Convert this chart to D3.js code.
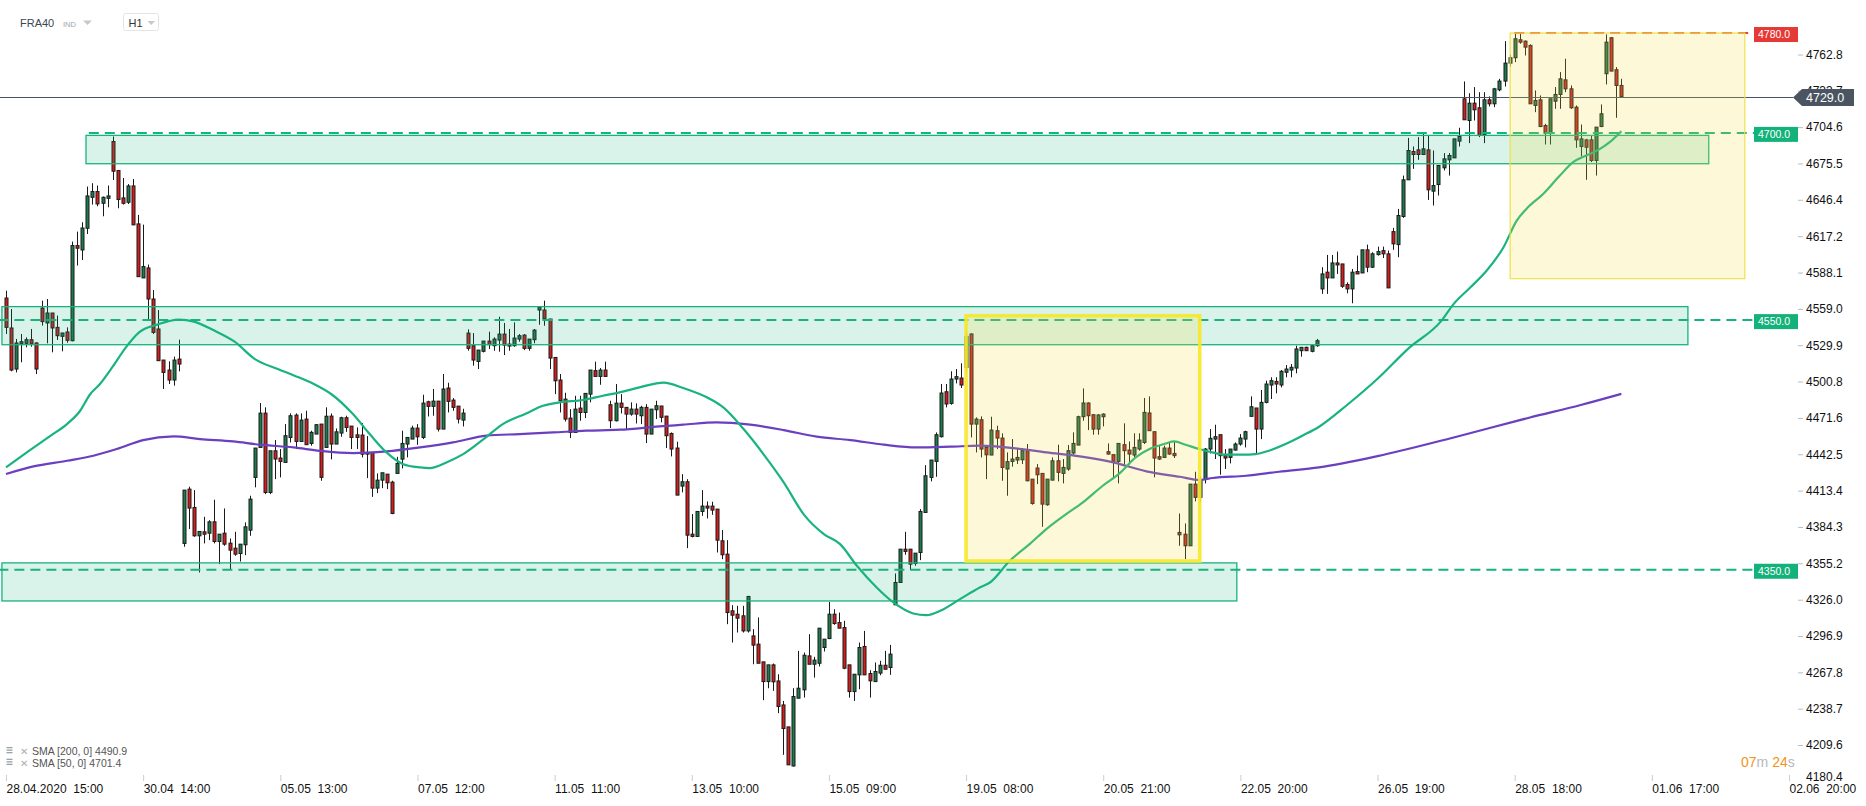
<!DOCTYPE html>
<html><head><meta charset="utf-8">
<script src="https://cdn.jsdelivr.net/npm/d3@7"></script>
<style>
body{margin:0;background:#fff;}
svg{display:block;font-family:"Liberation Sans",Arial,sans-serif;}
text{white-space:pre;}
</style>
</head><body>
<svg id="c" width="1866" height="806"></svg>
<script>
// ---------- DATA ----------
const instrument = "FRA40", instrumentType = "IND", timeframe = "H1";
// hourly candles [open, high, low, close], index 0 = 28.04.2020 15:00
const candles = [
[4567.7,4573.6,4538.9,4544.2],[4543.7,4558.9,4509.0,4510.0],[4510.8,4534.9,4508.1,4531.7],[4530.9,4538.9,4516.2,4532.7],[4531.4,4536.2,4528.2,4534.3],[4534.3,4542.9,4528.7,4530.9],[4531.7,4532.2,4506.8,4510.8],
[4559.7,4565.6,4545.6,4548.8],[4547.7,4566.9,4531.4,4555.7],[4555.7,4555.7,4524.2,4543.7],[4544.2,4553.6,4534.1,4537.5],[4537.0,4539.7,4525.0,4539.7],[4540.5,4544.2,4531.9,4533.8],[4533.5,4612.9,4533.0,4609.7],[4609.7,4620.9,4593.7,4607.6],[4606.2,4628.4,4598.2,4623.8],[4623.6,4657.0,4619.0,4649.5],[4648.4,4659.7,4642.6,4653.0],[4653.0,4657.8,4641.2,4643.1],[4643.6,4649.0,4633.2,4648.4],[4647.6,4657.8,4640.4,4649.5],
[4693.1,4697.1,4662.3,4669.3],[4669.8,4669.8,4639.6,4646.6],[4647.9,4663.9,4642.6,4643.6],[4644.4,4659.0,4643.0,4657.5],[4657.5,4663.1,4626.3,4626.3],[4627.1,4634.3,4584.8,4584.8],[4583.8,4626.5,4583.8,4592.9],[4591.8,4594.5,4550.4,4566.9],[4566.9,4574.1,4538.9,4540.2],[4542.9,4558.1,4517.5,4517.5],[4518.0,4518.0,4494.8,4508.1],[4510.0,4517.0,4498.8,4502.0],[4502.0,4520.7,4497.5,4518.0],[4518.8,4534.3,4508.9,4514.8],
[4371.1,4413.8,4368.4,4413.8],[4414.6,4416.5,4382.6,4399.4],[4399.9,4413.8,4376.4,4377.2],[4377.2,4380.7,4347.8,4380.7],[4380.4,4392.4,4371.1,4378.5],[4379.3,4389.7,4373.7,4388.4],[4388.4,4406.1,4371.1,4372.6],[4372.6,4378.5,4354.5,4378.5],[4379.3,4399.1,4369.2,4370.5],[4371.3,4375.1,4350.5,4365.7],[4367.3,4380.4,4361.2,4362.5],[4363.0,4370.5,4356.6,4370.5],[4370.0,4387.9,4361.7,4384.4],[4381.7,4409.3,4377.2,4406.6],
[4424.0,4447.5,4416.0,4447.5],[4448.0,4483.6,4448.0,4475.5],[4475.5,4480.1,4410.6,4411.9],[4411.9,4445.3,4410.6,4445.3],[4445.3,4453.9,4422.6,4438.7],[4439.5,4446.7,4424.0,4436.8],[4436.0,4466.7,4436.0,4457.4],[4456.0,4475.3,4452.0,4473.4],[4473.9,4475.3,4446.7,4452.8],[4452.8,4475.3,4452.8,4469.9],[4470.7,4477.4,4450.2,4450.2],[4451.2,4461.4,4449.4,4460.1],[4458.7,4466.7,4458.7,4466.2],[4466.7,4466.7,4421.3,4424.0],
[4448.0,4480.1,4448.0,4473.0],[4473.1,4475.2,4438.4,4450.7],[4450.7,4463.2,4450.7,4460.5],[4459.5,4472.6,4456.5,4471.8],[4471.8,4473.4,4460.5,4464.0],[4465.1,4465.1,4446.7,4456.0],[4458.1,4464.0,4446.7,4456.0],[4457.9,4467.5,4440.0,4442.6],[4444.0,4457.1,4423.4,4442.6],[4444.0,4444.0,4408.4,4415.4],[4415.4,4427.2,4411.4,4421.8],[4421.8,4427.7,4415.4,4427.7],[4426.6,4426.6,4414.6,4419.7],[4420.2,4421.3,4394.5,4395.1],
[4427.2,4440.5,4427.2,4435.2],[4438.6,4461.4,4431.2,4451.2],[4450.7,4456.0,4440.0,4456.0],[4454.7,4465.4,4454.7,4463.5],[4463.5,4466.7,4450.1,4456.5],[4456.0,4490.2,4454.7,4483.5],[4484.6,4485.4,4472.8,4480.9],[4480.9,4494.8,4473.4,4485.1],[4485.1,4485.1,4460.8,4462.7],[4462.7,4506.8,4462.7,4494.8],[4495.6,4499.8,4476.0,4484.9],[4485.9,4487.5,4477.4,4480.1],[4481.1,4481.1,4467.2,4470.7],[4469.9,4479.0,4464.8,4475.5],
[4539.6,4542.6,4525.5,4527.4],[4529.5,4539.6,4513.5,4518.0],[4516.9,4526.0,4510.8,4526.0],[4525.0,4533.2,4524.1,4533.2],[4533.2,4540.7,4526.8,4530.3],[4529.5,4536.2,4525.5,4534.8],[4534.0,4552.7,4524.7,4538.8],[4538.8,4547.7,4522.0,4530.0],[4530.8,4542.9,4525.5,4529.2],[4529.5,4548.2,4528.7,4535.6],[4534.8,4538.8,4532.7,4537.5],[4538.0,4538.8,4526.0,4527.4],[4527.4,4534.8,4525.5,4534.8],[4534.3,4542.9,4531.4,4542.0],
[4558.1,4560.2,4546.3,4560.2],[4558.1,4565.6,4545.5,4550.9],[4550.9,4550.9,4510.8,4519.6],[4520.1,4520.1,4490.7,4501.4],[4502.0,4506.8,4476.0,4485.4],[4486.7,4491.8,4468.8,4470.7],[4471.5,4478.7,4455.5,4460.0],[4460.0,4489.4,4460.0,4478.7],[4479.5,4489.4,4469.4,4476.0],[4476.0,4491.3,4471.5,4491.3],[4490.7,4510.0,4484.1,4510.0],[4509.5,4516.7,4504.9,4504.9],[4504.9,4511.6,4498.2,4510.0],[4510.0,4516.7,4504.9,4504.9],
[4482.2,4485.4,4463.5,4469.4],[4469.4,4498.8,4468.8,4483.5],[4483.5,4490.7,4475.2,4480.1],[4480.1,4480.1,4462.7,4474.7],[4474.7,4484.1,4473.4,4478.7],[4478.7,4483.3,4467.2,4474.7],[4473.4,4481.4,4466.7,4480.1],[4480.1,4482.7,4451.5,4458.7],[4458.7,4478.7,4458.7,4478.7],[4478.2,4485.4,4470.7,4481.4],[4481.2,4481.2,4468.1,4472.1],[4473.1,4473.1,4447.5,4457.4],[4459.2,4460.0,4440.8,4446.7],[4447.5,4452.6,4409.8,4409.8],
[4417.0,4426.6,4412.0,4420.5],[4420.5,4422.6,4367.3,4377.7],[4378.5,4394.6,4375.9,4376.7],[4376.7,4396.7,4376.7,4396.7],[4396.7,4413.8,4393.2,4401.0],[4401.0,4404.7,4391.1,4399.4],[4401.0,4404.5,4394.0,4397.8],[4398.6,4398.6,4363.8,4373.7],[4373.2,4381.8,4358.5,4362.0],[4362.5,4373.7,4306.4,4315.7],[4317.1,4321.6,4291.7,4313.6],[4314.4,4321.1,4299.7,4311.2],[4313.1,4321.1,4299.7,4301.0],[4301.0,4329.1,4299.7,4328.6],
[4297.0,4302.4,4274.3,4289.6],[4290.4,4311.8,4275.1,4275.1],[4276.2,4276.2,4245.5,4260.4],[4260.4,4273.8,4255.1,4273.8],[4273.8,4274.9,4253.0,4260.2],[4260.9,4266.3,4235.1,4240.4],[4241.7,4244.9,4201.7,4222.8],[4224.1,4224.1,4193.7,4193.7],[4192.8,4255.1,4192.3,4248.4],[4247.1,4285.0,4247.1,4255.1],[4253.8,4283.7,4247.6,4281.5],[4281.0,4298.4,4274.3,4274.3],[4274.3,4280.2,4263.6,4277.6],[4275.1,4303.2,4272.5,4303.2],
[4287.7,4294.4,4284.5,4294.4],[4294.9,4324.3,4294.4,4314.4],[4314.4,4318.4,4305.9,4306.9],[4307.7,4315.7,4303.2,4303.2],[4303.7,4309.1,4270.3,4271.1],[4273.8,4273.8,4247.6,4252.4],[4252.4,4266.3,4244.9,4266.3],[4265.8,4291.7,4254.3,4287.7],[4288.5,4301.0,4265.8,4265.8],[4266.9,4269.5,4247.6,4261.0],[4260.4,4275.7,4260.4,4268.5],[4267.2,4277.0,4265.5,4273.5],[4273.5,4285.0,4270.3,4270.3],[4271.7,4289.8,4265.8,4282.4],
[4321.9,4347.0,4321.9,4339.8],[4339.8,4366.5,4339.8,4366.5],[4366.5,4380.4,4362.0,4364.7],[4366.5,4366.5,4349.7,4354.5],[4355.0,4363.3,4353.2,4363.3],[4363.8,4398.6,4357.7,4396.7],[4395.9,4433.8,4395.9,4425.3],[4424.0,4437.9,4420.8,4437.9],[4436.8,4460.0,4424.5,4458.2],[4456.6,4498.8,4456.0,4491.6],[4492.6,4498.8,4480.1,4482.8],[4483.3,4509.0,4482.2,4502.8],[4502.8,4510.8,4499.3,4504.7],[4503.6,4515.4,4495.6,4498.0],
[4512.0,4541.0,4508.0,4537.0],[4538.9,4539.4,4456.0,4466.7],[4466.7,4472.1,4444.0,4470.7],[4470.2,4472.9,4440.0,4446.7],[4448.0,4448.0,4422.6,4442.1],[4441.9,4472.6,4441.9,4461.9],[4461.4,4465.4,4446.7,4455.5],[4455.5,4459.3,4421.3,4432.0],[4430.7,4444.0,4409.3,4436.6],[4436.8,4454.7,4432.6,4438.7],[4437.9,4447.5,4434.7,4440.0],[4438.1,4447.5,4434.7,4445.4],[4445.4,4450.7,4420.8,4421.3],[4422.6,4422.6,4402.1,4403.1],
[4431.5,4434.7,4418.6,4426.1],[4427.2,4427.2,4384.4,4402.6],[4402.1,4422.6,4401.3,4422.6],[4421.8,4440.0,4421.8,4437.3],[4437.3,4450.2,4420.8,4428.0],[4427.2,4438.7,4419.2,4432.0],[4430.7,4449.9,4429.3,4445.4],[4443.5,4460.1,4442.2,4451.2],[4449.9,4473.4,4449.9,4472.6],[4472.6,4495.3,4469.4,4483.6],[4483.6,4484.1,4461.9,4473.4],[4474.2,4474.7,4458.2,4462.7],[4462.7,4474.7,4458.2,4474.0],[4472.6,4475.3,4464.9,4474.7],
[4444.6,4451.2,4442.2,4442.7],[4442.2,4442.2,4422.7,4436.8],[4436.8,4451.2,4419.2,4451.2],[4450.2,4467.3,4434.2,4445.4],[4445.9,4452.8,4434.2,4442.7],[4441.9,4459.3,4440.0,4448.0],[4446.7,4459.3,4445.4,4453.9],[4452.0,4487.6,4450.7,4476.1],[4475.6,4488.9,4461.4,4461.4],[4460.6,4460.6,4424.0,4439.5],[4440.6,4449.4,4437.9,4438.7],[4440.0,4449.4,4439.5,4447.5],[4447.5,4452.0,4442.2,4442.7],[4443.2,4452.6,4439.5,4441.4],
[4379.9,4395.1,4369.2,4378.0],[4378.5,4387.1,4358.5,4369.2],[4369.2,4418.6,4369.2,4418.6],[4418.6,4428.5,4404.8,4408.0],[4408.0,4425.0,4404.0,4422.0],[4422.6,4447.5,4419.2,4446.7],[4446.7,4462.7,4443.2,4455.3],[4454.7,4466.2,4438.7,4456.6],[4458.2,4458.2,4426.1,4441.4],[4441.4,4446.7,4430.7,4439.5],[4440.0,4446.7,4435.2,4446.7],[4445.9,4452.0,4445.4,4450.7],[4450.7,4458.7,4449.4,4455.5],[4454.7,4461.4,4448.0,4460.6],
[4472.9,4488.9,4472.9,4480.6],[4479.6,4479.6,4442.7,4462.7],[4462.7,4494.0,4454.7,4484.1],[4484.1,4501.5,4483.3,4498.8],[4498.0,4504.2,4486.8,4501.5],[4500.9,4504.2,4491.3,4498.8],[4498.0,4510.0,4496.1,4509.0],[4508.2,4514.0,4504.2,4510.8],[4510.0,4514.8,4504.2,4512.2],[4511.6,4529.5,4507.4,4526.9],[4525.5,4528.2,4520.7,4528.2],[4528.2,4528.7,4525.5,4525.5],[4525.0,4529.5,4524.2,4529.5],[4529.5,4534.9,4528.7,4533.5],
[4575.0,4592.4,4571.0,4587.0],[4588.4,4602.2,4571.0,4583.8],[4583.8,4602.2,4583.8,4595.8],[4595.8,4604.9,4587.0,4594.2],[4595.0,4595.0,4575.8,4577.1],[4578.5,4580.3,4571.5,4575.0],[4575.0,4591.0,4563.5,4588.4],[4588.9,4601.7,4587.0,4587.0],[4587.8,4606.3,4587.8,4606.3],[4606.3,4610.5,4588.4,4592.4],[4592.4,4604.4,4591.8,4603.1],[4602.5,4608.9,4601.7,4604.9],[4605.7,4608.9,4599.8,4603.1],[4603.1,4605.7,4575.8,4575.8],
[4620.9,4623.9,4606.3,4611.1],[4610.5,4639.1,4600.4,4633.8],[4633.0,4665.8,4631.9,4662.4],[4662.4,4696.0,4662.4,4685.9],[4685.1,4689.1,4671.2,4682.7],[4686.4,4696.6,4678.4,4682.7],[4682.7,4700.6,4682.7,4687.2],[4686.4,4697.9,4646.3,4654.4],[4653.3,4685.9,4641.8,4657.8],[4658.6,4673.9,4649.8,4673.9],[4672.0,4683.8,4669.9,4679.2],[4678.4,4683.8,4665.8,4681.9],[4680.0,4695.2,4680.0,4695.2],[4693.4,4704.1,4689.1,4697.1],
[4727.3,4741.2,4710.5,4710.5],[4709.9,4731.8,4691.8,4723.8],[4723.8,4736.7,4709.9,4718.5],[4720.1,4732.6,4696.6,4697.9],[4698.7,4732.6,4691.8,4726.5],[4726.5,4729.2,4721.2,4723.3],[4723.3,4736.1,4720.6,4735.3],[4734.5,4743.3,4733.4,4741.5],[4741.5,4773.5,4737.2,4755.9],[4755.9,4762.5,4753.0,4760.2],[4760.2,4779.4,4756.7,4775.4],[4774.6,4779.4,4771.4,4772.7],[4773.5,4774.1,4762.0,4768.7],[4770.1,4770.9,4723.3,4723.3],
[4722.0,4734.0,4716.6,4726.0],[4726.5,4730.0,4704.6,4705.1],[4705.9,4707.3,4690.7,4699.8],[4699.8,4727.3,4690.7,4727.3],[4725.4,4736.7,4719.3,4730.8],[4730.8,4748.7,4719.3,4743.3],[4742.5,4759.4,4732.6,4735.3],[4735.3,4738.0,4719.3,4720.1],[4720.6,4722.0,4688.0,4694.4],[4689.1,4706.7,4681.1,4695.2],[4694.4,4695.2,4662.4,4688.5],[4694.4,4697.9,4676.6,4677.9],[4677.9,4704.6,4665.8,4704.6],[4705.1,4722.8,4704.6,4715.3],
[4747.4,4778.9,4738.8,4772.7],[4776.2,4776.7,4749.5,4749.5],[4750.6,4752.7,4712.1,4738.0],[4738.0,4743.3,4728.1,4729.0]
];
// SMA values: [candle index, value]
const sma50 = [[0,4432],[4.3,4444.6],[8.8,4457.4],[12,4466.7],[14.6,4477.4],[16.5,4490.2],[18.5,4498.8],[21,4512.7],[23.6,4528.2],[26.2,4540.2],[29.8,4546.4],[34,4550.4],[37,4548.8],[41,4541.6],[45,4532.7],[49,4518.8],[53.5,4510.8],[56.8,4505.5],[60.6,4498.8],[64,4490.8],[68.3,4474.7],[71.6,4458.7],[74.9,4444],[78.2,4434.6],[81.5,4432],[83.4,4431.4],[86.7,4436],[90,4442.6],[94.6,4456.5],[97.8,4466.7],[102.4,4475.2],[105.7,4481.4],[109,4484.1],[113.6,4486],[117.5,4489.4],[120.8,4492.1],[124.7,4496.1],[129.5,4500],[133.3,4495.6],[138.6,4486.8],[141.2,4480.1],[145.2,4462.7],[149.1,4442.7],[153.1,4420],[157,4394.6],[161,4378.6],[164.2,4370.5],[167.5,4353.2],[171.4,4335.8],[174.7,4323.8],[178.6,4315],[181.2,4313.6],[183.9,4317.1],[187.8,4326.5],[191.7,4335.8],[193.7,4339.8],[197.6,4357.2],[201.5,4370.5],[204.8,4382.6],[208.7,4394.6],[212,4404],[215.9,4417.3],[219.2,4427.2],[222.4,4440],[225.1,4446.7],[228.3,4451.2],[230,4452.8],[232.2,4450.2],[234.9,4446.7],[237.5,4444],[240.1,4442.2],[243.4,4442.2],[246,4442.7],[248.6,4445.4],[251.9,4450.7],[255.2,4457.4],[258.5,4464.6],[264,4482],[270,4503],[276,4527],[282.6,4549.6],[285,4563],[288.3,4576.3],[291.5,4589.7],[294.8,4608.4],[297.4,4629.7],[299.3,4639.1],[302.6,4651.1],[305.9,4665.8],[308.5,4676.5],[311.1,4681.9],[313.8,4687.2],[315.7,4692.6],[318,4701.4]];
const sma200 = [[0,4426.7],[5.4,4432.8],[12,4437.3],[17.2,4441.3],[21.8,4446.7],[27,4453.9],[33,4456.8],[38.2,4454.7],[44.7,4452.8],[50,4450.2],[56.6,4448],[61.8,4445.3],[68.3,4443.5],[74.9,4444.8],[81.5,4448],[88,4452],[94.6,4457.4],[101.1,4458.7],[107.7,4460],[114.2,4461.4],[120.8,4462.2],[128.6,4464.8],[133.3,4466.2],[139.9,4468.1],[146.5,4466.2],[153.1,4461.9],[159.6,4456.6],[166.2,4453.9],[172.8,4450.2],[179.3,4448],[185.9,4448.6],[191.7,4449.4],[198.3,4447.5],[204.8,4444],[211.4,4440.8],[218,4436],[224.5,4428.8],[231.1,4424.5],[235,4421.9],[237.5,4423.5],[244.1,4425.3],[250.6,4428.5],[258.5,4432],[270,4441],[285,4456],[300,4472],[310,4482],[318,4490.9]];
const yTickValues = [4762.8,4733.7,4704.6,4675.5,4646.4,4617.2,4588.1,4559.0,4529.9,4500.8,4471.6,4442.5,4413.4,4384.3,4355.2,4326.0,4296.9,4267.8,4238.7,4209.6,4180.4];
const xTickIdx = [0,27,54,81,108,135,162,189,216,243,270,297,324,351];
const xTickLabels = ["28.04.2020  15:00","30.04  14:00","05.05  13:00","07.05  12:00","11.05  11:00","13.05  10:00","15.05  09:00","19.05  08:00","20.05  21:00","22.05  20:00","26.05  19:00","28.05  18:00","01.06  17:00","02.06  20:00"];
const levelPrices = [4780, 4700, 4550, 4350];
const levelColors = ["#e8413c", "#17b37c", "#17b37c", "#17b37c"];
const levelStartIdx = [296.9, 16.3, -1.5, -1.5];
// support / resistance zones: [low, high, fromIdx, toIdx]
const zones = [[4675.3,4698.0,15.75,335.2],[4530.3,4560.8,-0.8,331.1],[4325.0,4355.5,-0.8,242.3]];
// highlight boxes: [low, high, fromIdx, toIdx]
const boxThick = [4357.0,4553.5,189,235];
const boxThin = [4583.2,4780.0,296.1,342.3];
const currentPrice = 4729.0;
const legend = [["SMA [200, 0] ", 4490.9],["SMA [50, 0] ", 4701.4]];
const timer = ["07","m ","24","s"];

// ---------- SCALES ----------
const svg = d3.select("#c");
const x = d3.scaleLinear().domain([0, 351]).range([6, 1789]);
const y = d3.scaleLinear().domain([4209.6, 4762.8]).range([745, 54.5]);
const labelLeft = 1754, labelRight = 1798;

// ---------- CANDLES ----------
const gC = svg.append("g");
candles.forEach((c, i) => {
  const [o, h, l, cl] = c;
  const cx = Math.round(x(i)) + 0.5;
  gC.append("line").attr("x1", cx).attr("x2", cx).attr("y1", y(h)).attr("y2", y(l))
    .attr("stroke", "#1a1a1a").attr("stroke-width", 1);
  const top = y(Math.max(o, cl)), bot = y(Math.min(o, cl));
  gC.append("rect").attr("x", cx - 1.5).attr("width", 3)
    .attr("y", top).attr("height", Math.max(1, bot - top))
    .attr("fill", cl >= o ? "#1d7c4d" : "#d81c1c")
    .attr("stroke", "#1a1a1a").attr("stroke-width", 1);
});

// ---------- SMA ----------
const line = d3.line().x(d => x(d[0])).y(d => y(d[1])).curve(d3.curveMonotoneX);
svg.append("path").datum(sma200).attr("d", line).attr("fill", "none").attr("stroke", "#6a3fc0").attr("stroke-width", 2.2);
svg.append("path").datum(sma50).attr("d", line).attr("fill", "none").attr("stroke", "#19b47e").attr("stroke-width", 2.2);

// ---------- LEVEL LINES ----------
levelPrices.forEach((p, k) => {
  svg.append("line").attr("x1", x(levelStartIdx[k])).attr("x2", labelLeft)
    .attr("y1", y(p)).attr("y2", y(p))
    .attr("stroke", levelColors[k]).attr("stroke-width", 2).attr("stroke-dasharray", "10,6");
});
// current price line
svg.append("line").attr("x1", 0).attr("x2", 1793).attr("y1", Math.round(y(currentPrice)) + 0.5).attr("y2", Math.round(y(currentPrice)) + 0.5)
  .attr("stroke", "#4a5561").attr("stroke-width", 1);

// ---------- ZONES ----------
zones.forEach(z => {
  svg.append("rect").attr("x", x(z[2])).attr("width", x(z[3]) - x(z[2]))
    .attr("y", y(z[1])).attr("height", y(z[0]) - y(z[1]))
    .attr("fill", "rgba(22,180,124,0.16)").attr("stroke", "#17b37c").attr("stroke-width", 1.3);
});
// ---------- BOXES ----------
svg.append("rect").attr("x", x(boxThin[2])).attr("width", x(boxThin[3]) - x(boxThin[2]))
  .attr("y", y(boxThin[1])).attr("height", y(boxThin[0]) - y(boxThin[1]))
  .attr("fill", "rgba(238,218,60,0.2)").attr("stroke", "#efe04c").attr("stroke-width", 1.2);
svg.append("rect").attr("x", x(boxThick[2])).attr("width", x(boxThick[3]) - x(boxThick[2]))
  .attr("y", y(boxThick[1])).attr("height", y(boxThick[0]) - y(boxThick[1]))
  .attr("fill", "rgba(238,218,60,0.2)").attr("stroke", "rgba(247,231,45,0.92)").attr("stroke-width", 3.6);

// ---------- Y AXIS ----------
const yAxis = svg.append("g").attr("transform", `translate(${labelRight},0)`)
  .call(d3.axisRight(y).tickValues(yTickValues).tickSize(5).tickPadding(3).tickFormat(d3.format(".1f")));
yAxis.select(".domain").remove();
yAxis.selectAll(".tick line").attr("stroke", "#b8bec4");
yAxis.selectAll(".tick text").attr("fill", "#111").attr("font-size", 12).attr("font-family", "Liberation Sans, Arial, sans-serif");
yAxis.selectAll(".tick").filter(d => d === 4180.4).each(function () {
  d3.select(this).select("line").remove();
  d3.select(this).select("text").attr("dy", "-0.05em");
});

// level labels
levelPrices.forEach((p, k) => {
  const cy = y(p) + 1.5;
  svg.append("rect").attr("x", labelLeft).attr("y", cy - 7.5).attr("width", labelRight - labelLeft).attr("height", 15)
    .attr("fill", levelColors[k] === "#e8413c" ? "#e53935" : "#12b27a");
  svg.append("text").attr("x", labelLeft + 4).attr("y", cy + 3.8).attr("fill", "#fff").attr("font-size", 10.5)
    .text(d3.format(".1f")(p));
});
// current price label
const cpY = Math.round(y(currentPrice)) + 0.5;
svg.append("path").attr("d", `M1793,${cpY}L1802,${cpY - 8.5}L1854,${cpY - 8.5}L1854,${cpY + 8.5}L1802,${cpY + 8.5}Z`).attr("fill", "#4a5561");
svg.append("text").attr("x", 1806).attr("y", cpY + 4.5).attr("fill", "#fff").attr("font-size", 12.5).text(d3.format(".1f")(currentPrice));

// ---------- X AXIS ----------
const xAxis = svg.append("g").attr("transform", "translate(0,775)")
  .call(d3.axisBottom(x).tickValues(xTickIdx).tickSize(6).tickPadding(3).tickFormat((d, i) => xTickLabels[i]));
xAxis.select(".domain").remove();
xAxis.selectAll(".tick line").attr("stroke", "#c8cdd2");
xAxis.selectAll(".tick text").attr("text-anchor", "start").attr("fill", "#111").attr("font-size", 12)
  .attr("font-family", "Liberation Sans, Arial, sans-serif").style("white-space", "pre");

// ---------- HEADER ----------
svg.append("text").attr("x", 20).attr("y", 27).attr("font-size", 11).attr("fill", "#3a4752").text(instrument);
svg.append("text").attr("x", 63).attr("y", 26.5).attr("font-size", 7.5).attr("fill", "#9aa6ae").text(instrumentType);
svg.append("path").attr("d", "M83,20.5L92,20.5L87.5,25Z").attr("fill", "#c4c9cd");
svg.append("rect").attr("x", 123.5).attr("y", 13.5).attr("width", 35).attr("height", 17).attr("rx", 2)
  .attr("fill", "#fff").attr("stroke", "#e2e4e6");
svg.append("text").attr("x", 128.5).attr("y", 27).attr("font-size", 11).attr("fill", "#333").text(timeframe);
svg.append("path").attr("d", "M147.5,21L155,21L151.25,25Z").attr("fill", "#c4c9cd");

// ---------- LEGEND ----------
legend.forEach((l, k) => {
  const ly = 751.5 + k * 11.7;
  const g = svg.append("g");
  g.append("rect").attr("x", 6.5).attr("y", ly - 4.5).attr("width", 6).attr("height", 1.3).attr("fill", "#9aa3aa");
  g.append("rect").attr("x", 6.5).attr("y", ly - 2).attr("width", 6).attr("height", 1.3).attr("fill", "#9aa3aa");
  g.append("rect").attr("x", 6.5).attr("y", ly + 0.5).attr("width", 6).attr("height", 1.3).attr("fill", "#9aa3aa");
  g.append("text").attr("x", 20).attr("y", ly + 3.5).attr("font-size", 9.5).attr("fill", "#a8b0b6").text("✕");
  g.append("text").attr("x", 32).attr("y", ly + 3.8).attr("font-size", 10.5).attr("fill", "#555").text(l[0] + d3.format(".1f")(l[1]));
});

// ---------- TIMER ----------
const tt = svg.append("text").attr("x", 1741).attr("y", 766.5).attr("font-size", 14);
timer.forEach((s, k) => tt.append("tspan").attr("fill", k % 2 === 0 ? "#f39318" : "#b4b9bd").text(s));
</script>
</body></html>
